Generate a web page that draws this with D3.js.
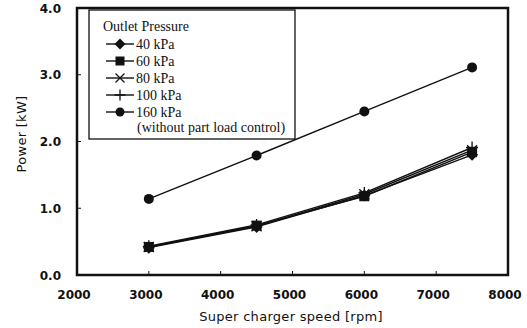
<!DOCTYPE html>
<html lang="en">
<head>
    <meta charset="UTF-8">
    <title>Power vs super charger speed</title>
    <script src="https://d3js.org/d3.v7.min.js"></script>
    <style>
        body { margin: 0; background: #fff; }
        .tick-label {
            font-size: 12px;
            font-family: "DejaVu Sans", sans-serif;
            font-weight: bold;
            fill: #111;
        }
        .axis-title {
            font-size: 13px;
            font-family: "DejaVu Sans", sans-serif;
            letter-spacing: 0.3px;
            fill: #111;
        }
        .legend-text {
            font-size: 14px;
            font-family: "Liberation Serif", "Times New Roman", serif;
            fill: #111;
        }
    </style>
</head>
<body>
<script>
    let canvasWidth = 527;
    let canvasHeight = 328;

    // data
    let speeds = [3000, 4500, 6000, 7500];
    let seriesNames = ["40 kPa", "60 kPa", "80 kPa", "100 kPa", "160 kPa"];
    let markers = ["diamond", "square", "cross", "plus", "circle"];
    let p40 = [0.41, 0.72, 1.19, 1.80];
    let p60 = [0.42, 0.74, 1.18, 1.84];
    let p80 = [0.42, 0.73, 1.21, 1.87];
    let p100 = [0.43, 0.75, 1.23, 1.91];
    let p160 = [1.14, 1.79, 2.45, 3.11];
    let xTicks = [2000, 3000, 4000, 5000, 6000, 7000, 8000];
    let yTicks = [0, 1, 2, 3, 4];

    let allSeries = [p40, p60, p80, p100, p160];

    let svg = d3.select("body").append("svg")
        .attr("width", canvasWidth)
        .attr("height", canvasHeight);

    svg.append("rect")
        .attr("fill", "white")
        .attr("width", "100%")
        .attr("height", "100%");

    let x = d3.scaleLinear().domain([2000, 8000]).range([77, 508]);
    let y = d3.scaleLinear().domain([0, 4]).range([275, 8]);

    // inward ticks
    xTicks.forEach(t => {
        svg.append("line")
            .attr("x1", x(t)).attr("x2", x(t))
            .attr("y1", y(0)).attr("y2", y(0) - 4)
            .attr("stroke", "#111").attr("stroke-width", 1);
        svg.append("text")
            .attr("class", "tick-label")
            .attr("x", x(t) - 3)
            .attr("y", 299)
            .attr("text-anchor", "middle")
            .text(t);
    });

    yTicks.forEach(t => {
        svg.append("line")
            .attr("x1", x(2000)).attr("x2", x(2000) + 4)
            .attr("y1", y(t)).attr("y2", y(t))
            .attr("stroke", "#111").attr("stroke-width", 1);
        svg.append("text")
            .attr("class", "tick-label")
            .attr("x", 61)
            .attr("y", y(t) + 4.5)
            .attr("text-anchor", "end")
            .text(t.toFixed(1));
    });

    // plot frame
    svg.append("rect")
        .attr("x", x(2000))
        .attr("y", y(4))
        .attr("width", x(8000) - x(2000))
        .attr("height", y(0) - y(4))
        .attr("fill", "none")
        .attr("stroke", "#111")
        .attr("stroke-width", 2.5);

    // axis titles
    svg.append("text")
        .attr("class", "axis-title")
        .attr("x", 291)
        .attr("y", 321)
        .attr("text-anchor", "middle")
        .text("Super charger speed [rpm]");

    svg.append("text")
        .attr("class", "axis-title")
        .attr("transform", "translate(26,134) rotate(-90)")
        .attr("text-anchor", "middle")
        .text("Power [kW]");

    function drawMarker(g, type, cx, cy, s) {
        if (type === "diamond") {
            let h = s / 2 + 1;
            g.append("path")
                .attr("d", "M" + cx + "," + (cy - h) + "L" + (cx + h) + "," + cy +
                    "L" + cx + "," + (cy + h) + "L" + (cx - h) + "," + cy + "Z")
                .attr("fill", "#111");
        } else if (type === "square") {
            g.append("rect")
                .attr("x", cx - s / 2).attr("y", cy - s / 2)
                .attr("width", s).attr("height", s)
                .attr("fill", "#111");
        } else if (type === "cross") {
            let h = s / 2;
            g.append("path")
                .attr("d", "M" + (cx - h) + "," + (cy - h) + "L" + (cx + h) + "," + (cy + h) +
                    "M" + (cx - h) + "," + (cy + h) + "L" + (cx + h) + "," + (cy - h))
                .attr("stroke", "#111").attr("stroke-width", 1.3);
        } else if (type === "plus") {
            let h = s / 2 + 1;
            g.append("path")
                .attr("d", "M" + (cx - h) + "," + cy + "L" + (cx + h) + "," + cy +
                    "M" + cx + "," + (cy - h) + "L" + cx + "," + (cy + h))
                .attr("stroke", "#111").attr("stroke-width", 1.3);
        } else {
            g.append("circle")
                .attr("cx", cx).attr("cy", cy).attr("r", s / 2)
                .attr("fill", "#111");
        }
    }

    let line = d3.line()
        .x((d, i) => x(speeds[i]))
        .y(d => y(d));

    let plot = svg.append("g");
    allSeries.forEach((values, k) => {
        plot.append("path")
            .datum(values)
            .attr("d", line)
            .attr("fill", "none")
            .attr("stroke", "#111")
            .attr("stroke-width", 1.4);
        values.forEach((v, i) => {
            drawMarker(plot, markers[k], x(speeds[i]), y(v), 10);
        });
    });

    // legend
    let legend = svg.append("g");
    legend.append("rect")
        .attr("x", 89).attr("y", 10)
        .attr("width", 206).attr("height", 129)
        .attr("fill", "white")
        .attr("stroke", "#111")
        .attr("stroke-width", 1.3);

    legend.append("text")
        .attr("class", "legend-text")
        .attr("x", 103)
        .attr("y", 31)
        .text("Outlet Pressure");

    seriesNames.forEach((name, k) => {
        let ly = 44 + k * 17;
        legend.append("line")
            .attr("x1", 106).attr("x2", 134)
            .attr("y1", ly).attr("y2", ly)
            .attr("stroke", "#111").attr("stroke-width", 1.4);
        drawMarker(legend, markers[k], 120, ly, 9);
        legend.append("text")
            .attr("class", "legend-text")
            .attr("x", 136)
            .attr("y", ly + 4.5)
            .text(name);
    });

    legend.append("text")
        .attr("class", "legend-text")
        .attr("x", 137)
        .attr("y", 132)
        .text("(without part load control)");
</script>
</body>
</html>
